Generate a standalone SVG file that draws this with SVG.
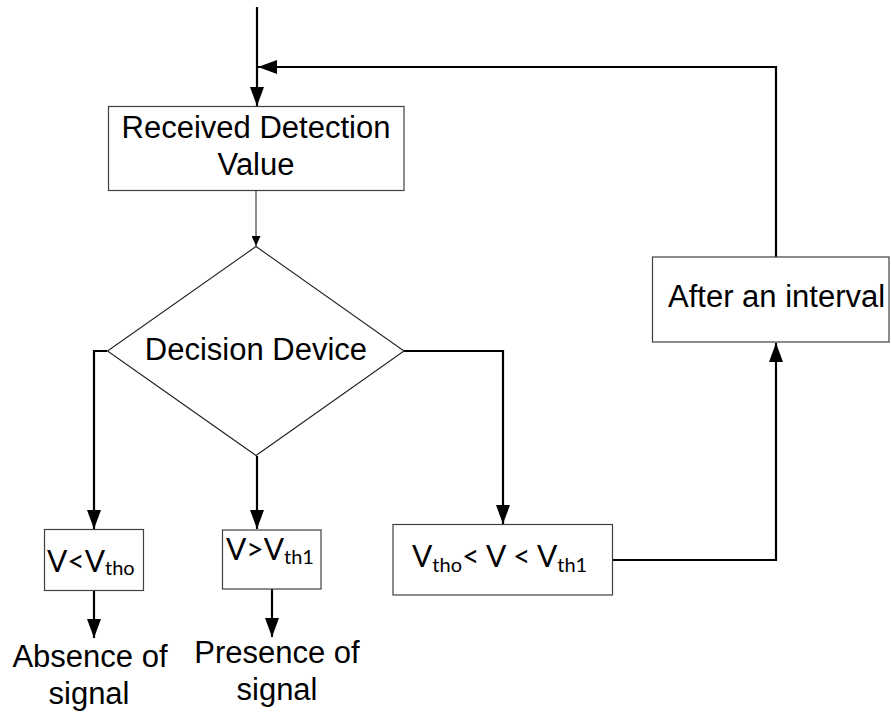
<svg xmlns="http://www.w3.org/2000/svg" width="891" height="715" viewBox="0 0 891 715">
  <style>
    .box { fill: #ffffff; stroke: #404040; stroke-width: 1.2; }
    .dia { fill: #ffffff; stroke: #202020; stroke-width: 1.1; }
    .lbl { font-family: "Liberation Sans", Arial, sans-serif; font-size: 31px; fill: #000000; }
    .cond { font-family: Lato, "Liberation Sans", sans-serif; font-size: 30px; fill: #000000; }
    .sub { font-size: 20px; }
    .wire { fill: none; stroke: #000000; stroke-width: 2.2; }
    .thin { fill: none; stroke: #505050; stroke-width: 1.3; }
  </style>
  <defs>
    <marker id="arrow" markerUnits="userSpaceOnUse" markerWidth="20" markerHeight="14" refX="19" refY="7" orient="auto">
      <path d="M0,0 L19,7 L0,14 Z" fill="#000000"/>
    </marker>
    <marker id="arrowSmall" markerUnits="userSpaceOnUse" markerWidth="11" markerHeight="9" refX="10" refY="4.5" orient="auto">
      <path d="M0,0 L10,4.5 L0,9 Z" fill="#000000"/>
    </marker>
  </defs>

  <rect width="891" height="715" fill="#ffffff"/>

  <g id="connectors">
    <!-- entry into the first block -->
    <path class="wire" d="M257,7 V106" marker-end="url(#arrow)"/>
    <!-- loop back from the interval block -->
    <path class="wire" d="M776,257 V67 H258" marker-end="url(#arrow)"/>
    <!-- detection value to decision -->
    <path class="thin" d="M256,191 V246" marker-end="url(#arrowSmall)"/>
    <!-- decision branches -->
    <path class="wire" d="M107,351 H94 V529" marker-end="url(#arrow)"/>
    <path class="wire" d="M257,456 V529" marker-end="url(#arrow)"/>
    <path class="wire" d="M404,351 H503 V524" marker-end="url(#arrow)"/>
    <!-- outcomes -->
    <path class="wire" d="M94,591 V638" marker-end="url(#arrow)"/>
    <path class="wire" d="M272,589 V637" marker-end="url(#arrow)"/>
    <!-- in-between range waits for an interval -->
    <path class="wire" d="M613,560 H776 V343" marker-end="url(#arrow)"/>
  </g>

  <g id="received">
    <rect class="box" x="108.5" y="106.5" width="295.5" height="84"/>
    <text class="lbl" x="256" y="138" text-anchor="middle">Received Detection</text>
    <text class="lbl" x="256" y="175" text-anchor="middle">Value</text>
  </g>

  <g id="decision">
    <polygon class="dia" points="256,246.5 404,351 256,455.5 107.5,351"/>
    <text class="lbl" x="256" y="359.5" text-anchor="middle">Decision Device</text>
  </g>

  <g id="interval">
    <rect class="box" x="652.5" y="257" width="236.5" height="85"/>
    <text class="lbl" x="668" y="307">After an interval</text>
  </g>

  <g id="below">
    <rect class="box" x="44.5" y="529.5" width="99" height="61"/>
    <text class="cond" x="47" y="572">V&lt;V<tspan class="sub" y="575">tho</tspan></text>
  </g>

  <g id="above">
    <rect class="box" x="222.5" y="530" width="98.5" height="59"/>
    <text class="cond" x="226" y="559.5">V&gt;V<tspan class="sub" y="563.5">th1</tspan></text>
  </g>

  <g id="between">
    <rect class="box" x="393" y="524.5" width="219.5" height="70.5"/>
    <text class="cond" x="412" y="567">V<tspan class="sub" y="572">tho</tspan><tspan y="567">&lt; V &lt; V</tspan><tspan class="sub" y="572">th1</tspan></text>
  </g>

  <g id="absence">
    <text class="lbl" x="90" y="667" text-anchor="middle">Absence of</text>
    <text class="lbl" x="89" y="704" text-anchor="middle">signal</text>
  </g>

  <g id="presence">
    <text class="lbl" x="277" y="663" text-anchor="middle">Presence of</text>
    <text class="lbl" x="277" y="700" text-anchor="middle">signal</text>
  </g>
</svg>
